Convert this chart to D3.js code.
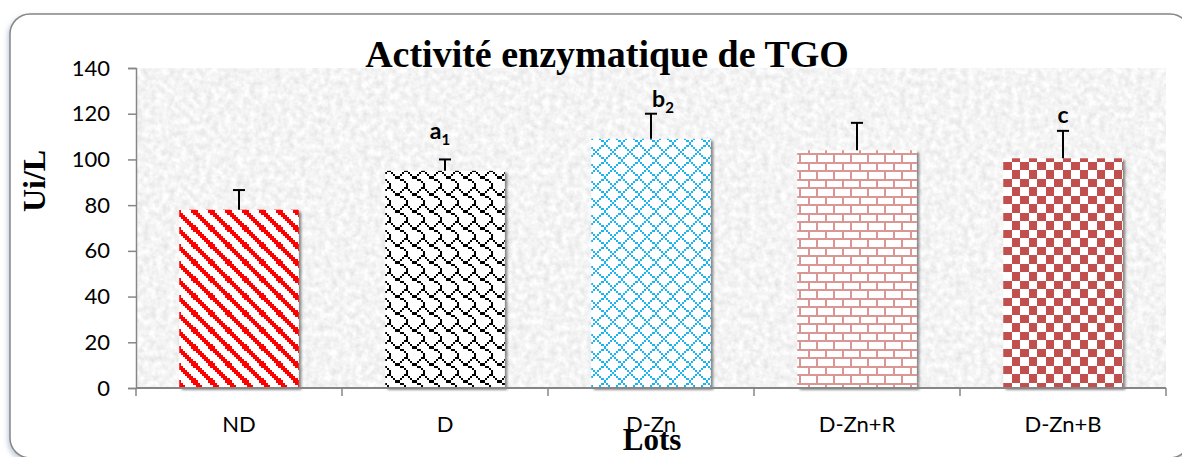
<!DOCTYPE html>
<html lang="fr">
<head>
<meta charset="utf-8">
<title>Activité enzymatique de TGO</title>
<script src="https://cdn.jsdelivr.net/npm/d3@7"></script>
<style>
  html, body { margin: 0; padding: 0; background: #ffffff; }
  svg { display: block; }
</style>
</head>
<body>
<svg id="chart" width="1182" height="457"></svg>
<script>
// ---- Données ----
const lots = ["ND", "D", "D-Zn", "D-Zn+R", "D-Zn+B"];
const activite = [78, 95, 109, 104, 100.5];     // Ui/L
const ecartType = [8.6, 5, 11, 12, 12];         // barre d'erreur (+)
const lettres = ["", "a", "b", "", "c"];
const indices = ["", "1", "2", "", ""];
const yTicks = [0, 20, 40, 60, 80, 100, 120, 140];

// ---- Mise en page ----
const plot = { left: 136, right: 1166, top: 68, bottom: 388 };
const labelShift = [[0, 0], [-5, -20], [12, -7], [0, 0], [0, -8]];

const svg = d3.select("#chart");
const defs = svg.append("defs");

// Motifs bitmap 8x8 (style Office), agrandis
const CELL = 17 / 8;
const bitmaps = {
  diag:    { color: "#ff0000", rows: [0xc1, 0xe0, 0x70, 0x38, 0x1c, 0x0e, 0x07, 0x83] },
  shingle: { color: "#000000", rows: [0x03, 0x84, 0x48, 0x30, 0x0c, 0x02, 0x01, 0x01] },
  diamond: { color: "#1ab4f0", rows: [0x41, 0x22, 0x14, 0x08, 0x14, 0x22, 0x41, 0x80] },
  brick:   { color: "#d99694", rows: [0xff, 0x80, 0x80, 0x80, 0xff, 0x08, 0x08, 0x08] },
  checker: { color: "#c0504d", rows: [0x0f, 0x0f, 0x0f, 0x0f, 0xf0, 0xf0, 0xf0, 0xf0] }
};
const barPattern = ["diag", "shingle", "diamond", "brick", "checker"];

Object.entries(bitmaps).forEach(([name, bm]) => {
  const p = defs.append("pattern")
    .attr("id", "pat-" + name)
    .attr("patternUnits", "userSpaceOnUse")
    .attr("width", CELL * 8).attr("height", CELL * 8);
  p.append("rect").attr("width", CELL * 8).attr("height", CELL * 8).attr("fill", "#ffffff");
  bm.rows.forEach((byte, r) => {
    let c = 0;
    while (c < 8) {
      if (byte & (0x80 >> c)) {
        let e = c;
        while (e < 8 && (byte & (0x80 >> e))) e++;
        p.append("rect")
          .attr("x", c * CELL).attr("y", r * CELL)
          .attr("width", (e - c) * CELL).attr("height", CELL)
          .attr("fill", bm.color)
          .attr("shape-rendering", "crispEdges");
        c = e;
      } else c++;
    }
  });
});

// Texture granitée du fond de la zone de tracé
const grain = defs.append("filter").attr("id", "grain")
  .attr("x", 0).attr("y", 0).attr("width", 1).attr("height", 1);
grain.append("feTurbulence").attr("type", "fractalNoise")
  .attr("baseFrequency", 0.16).attr("numOctaves", 4).attr("seed", 3);
grain.append("feColorMatrix").attr("type", "matrix")
  .attr("values", "0.34 0 0 0 0.735  0.34 0 0 0 0.735  0.34 0 0 0 0.735  0 0 0 0 1");
grain.append("feGaussianBlur").attr("stdDeviation", 0.7);

const shadow = defs.append("filter").attr("id", "ombre")
  .attr("x", "-10%").attr("y", "-10%").attr("width", "130%").attr("height", "130%");
shadow.append("feDropShadow").attr("dx", 2.5).attr("dy", 2).attr("stdDeviation", 1.3)
  .attr("flood-color", "#000").attr("flood-opacity", 0.45);

const frameShadow = defs.append("filter").attr("id", "ombre-cadre")
  .attr("x", "-5%").attr("y", "-5%").attr("width", "110%").attr("height", "110%");
frameShadow.append("feDropShadow").attr("dx", -1.5).attr("dy", 2.5).attr("stdDeviation", 2.5)
  .attr("flood-color", "#8fa0bd").attr("flood-opacity", 0.55);

// Cadre arrondi du graphique
svg.append("rect")
  .attr("x", 10).attr("y", 14).attr("width", 1180).attr("height", 444)
  .attr("rx", 20).attr("ry", 20)
  .attr("fill", "#ffffff").attr("stroke", "#868686").attr("stroke-width", 1.5)
  .attr("filter", "url(#ombre-cadre)");

// ---- Échelles ----
const x = d3.scaleBand().domain(lots)
  .range([plot.left, plot.right]).paddingInner(0.42).paddingOuter(0.21);
const y = d3.scaleLinear().domain([0, 140]).range([plot.bottom, plot.top]);

// Fond de la zone de tracé
svg.append("rect")
  .attr("x", plot.left).attr("y", plot.top)
  .attr("width", plot.right - plot.left).attr("height", plot.bottom - plot.top)
  .attr("fill", "#e6e6e6").attr("filter", "url(#grain)");

// ---- Axes ----
const yAxis = svg.append("g")
  .attr("transform", `translate(${plot.left},0)`)
  .call(d3.axisLeft(y).tickValues(yTicks).tickSize(8).tickPadding(18));
yAxis.select(".domain").attr("stroke", "#868686").attr("stroke-width", 1.5);
yAxis.selectAll(".tick line").attr("stroke", "#868686").attr("stroke-width", 1.5);
yAxis.selectAll(".tick text")
  .attr("font-family", "Lato, 'Open Sans', sans-serif").attr("font-size", 22)
  .attr("fill", "#000");

const xAxis = svg.append("g")
  .attr("transform", `translate(0,${plot.bottom})`)
  .call(d3.axisBottom(x).tickSize(0).tickPadding(0));
xAxis.select(".domain").remove();
xAxis.selectAll(".tick text")
  .attr("font-family", "Lato, 'Open Sans', sans-serif").attr("font-size", 22)
  .attr("fill", "#000").attr("dy", 0).attr("y", 44);

// Graduations entre les catégories
svg.append("g").selectAll("line")
  .data(d3.range(lots.length + 1))
  .join("line")
  .attr("x1", i => plot.left + i * (plot.right - plot.left) / lots.length)
  .attr("x2", i => plot.left + i * (plot.right - plot.left) / lots.length)
  .attr("y1", plot.bottom).attr("y2", plot.bottom + 8)
  .attr("stroke", "#868686").attr("stroke-width", 1.5);

// ---- Barres ----
svg.append("g").selectAll("rect")
  .data(lots)
  .join("rect")
  .attr("x", d => x(d))
  .attr("y", (d, i) => y(activite[i]))
  .attr("width", x.bandwidth())
  .attr("height", (d, i) => y(0) - y(activite[i]))
  .attr("fill", (d, i) => `url(#pat-${barPattern[i]})`)
  .attr("filter", "url(#ombre)");

// Ligne de l'axe horizontal par-dessus les barres
svg.append("line")
  .attr("x1", plot.left).attr("x2", plot.right)
  .attr("y1", plot.bottom).attr("y2", plot.bottom)
  .attr("stroke", "#868686").attr("stroke-width", 2);

// ---- Barres d'erreur (+) ----
const err = svg.append("g").attr("stroke", "#000").attr("stroke-width", 2);
lots.forEach((d, i) => {
  const cx = x(d) + x.bandwidth() / 2;
  const top = y(activite[i] + ecartType[i]);
  err.append("line").attr("x1", cx).attr("x2", cx)
    .attr("y1", y(activite[i])).attr("y2", top);
  err.append("line").attr("x1", cx - 6).attr("x2", cx + 6)
    .attr("y1", top).attr("y2", top);
});

// ---- Lettres de signification ----
lots.forEach((d, i) => {
  if (!lettres[i]) return;
  const cx = x(d) + x.bandwidth() / 2 + labelShift[i][0];
  const by = y(activite[i] + ecartType[i]) + labelShift[i][1];
  const t = svg.append("text")
    .attr("x", cx).attr("y", by)
    .attr("text-anchor", "middle")
    .attr("font-family", "Lato, 'Open Sans', sans-serif")
    .attr("font-weight", "bold").attr("font-size", 23).attr("fill", "#000");
  t.append("tspan").text(lettres[i]);
  if (indices[i]) t.append("tspan").attr("font-size", 15).attr("dy", 6).text(indices[i]);
});

// ---- Titres ----
svg.append("text")
  .attr("x", 607).attr("y", 67)
  .attr("text-anchor", "middle")
  .attr("font-family", "'Liberation Serif', 'Times New Roman', serif")
  .attr("font-weight", "bold").attr("font-size", 38)
  .text("Activité enzymatique de TGO");

svg.append("text")
  .attr("transform", "translate(45,181) rotate(-90)")
  .attr("text-anchor", "middle")
  .attr("font-family", "'Liberation Serif', 'Times New Roman', serif")
  .attr("font-weight", "bold").attr("font-size", 32)
  .text("Ui/L");

svg.append("text")
  .attr("x", 652).attr("y", 450)
  .attr("text-anchor", "middle")
  .attr("font-family", "'Liberation Serif', 'Times New Roman', serif")
  .attr("font-weight", "bold").attr("font-size", 31)
  .text("Lots");
</script>
</body>
</html>
